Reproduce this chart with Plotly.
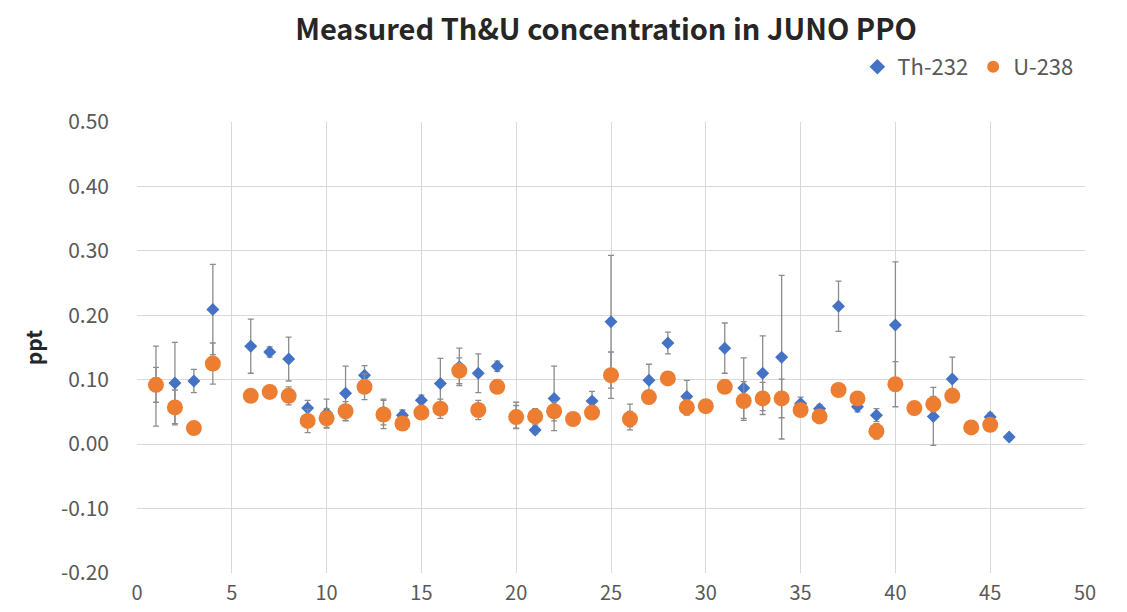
import plotly.graph_objects as go

th_x = [1, 2, 3, 4, 6, 7, 8, 9, 10, 11, 12, 13, 14, 15, 16, 17, 18, 19, 20, 21, 22, 23, 24, 25,
        26, 27, 28, 29, 30, 31, 32, 33, 34, 35, 36, 37, 38, 39, 40, 41, 42, 43, 44, 45, 46]
th_y = [0.090, 0.095, 0.098, 0.209, 0.152, 0.143, 0.132, 0.056, 0.048, 0.079, 0.107, 0.050,
        0.045, 0.068, 0.094, 0.120, 0.110, 0.121, 0.045, 0.022, 0.071, 0.040, 0.067, 0.190,
        0.042, 0.099, 0.157, 0.074, 0.060, 0.149, 0.087, 0.110, 0.135, 0.063, 0.055, 0.214,
        0.058, 0.045, 0.185, 0.055, 0.043, 0.101, 0.025, 0.042, 0.011]
th_err = [0.062, 0.063, 0.018, 0.070, 0.042, 0.008, 0.034, 0.012, 0.022, 0.042, 0.015, 0.020,
          0.008, 0.008, 0.039, 0.029, 0.030, 0.008, 0.020, 0.006, 0.050, 0.008, 0.015, 0.103,
          0.020, 0.025, 0.017, 0.025, 0.008, 0.039, 0.047, 0.058, 0.127, 0.010, 0.006, 0.039,
          0.008, 0.010, 0.098, 0.008, 0.045, 0.034, 0.006, 0.006, 0.004]

u_x = [1, 2, 3, 4, 6, 7, 8, 9, 10, 11, 12, 13, 14, 15, 16, 17, 18, 19, 20, 21, 22, 23, 24, 25,
       26, 27, 28, 29, 30, 31, 32, 33, 34, 35, 36, 37, 38, 39, 40, 41, 42, 43, 44, 45]
u_y = [0.092, 0.057, 0.025, 0.125, 0.075, 0.081, 0.075, 0.036, 0.040, 0.051, 0.089, 0.046,
       0.032, 0.049, 0.055, 0.114, 0.053, 0.089, 0.042, 0.043, 0.051, 0.039, 0.049, 0.107,
       0.039, 0.073, 0.102, 0.057, 0.059, 0.089, 0.067, 0.071, 0.071, 0.053, 0.043, 0.084,
       0.071, 0.020, 0.093, 0.056, 0.062, 0.075, 0.026, 0.030]
u_err = [0.027, 0.027, 0.005, 0.032, 0.006, 0.010, 0.014, 0.018, 0.015, 0.015, 0.020, 0.022,
         0.010, 0.010, 0.015, 0.020, 0.015, 0.010, 0.018, 0.012, 0.015, 0.010, 0.010, 0.036,
         0.012, 0.010, 0.008, 0.012, 0.008, 0.010, 0.030, 0.025, 0.030, 0.010, 0.008, 0.008,
         0.010, 0.012, 0.035, 0.010, 0.012, 0.010, 0.008, 0.008]

x_ticks = [0, 5, 10, 15, 20, 25, 30, 35, 40, 45, 50]
y_ticks = [-0.2, -0.1, 0.0, 0.1, 0.2, 0.3, 0.4, 0.5]
y_tick_text = ["-0.20", "-0.10", "0.00", "0.10", "0.20", "0.30", "0.40", "0.50"]

FONT = "Noto Sans CJK SC, Noto Sans, sans-serif"
err_style = dict(type="data", thickness=1.3, width=3, color="#8C8C8C")

fig = go.Figure()
fig.add_trace(go.Scatter(
    x=th_x, y=th_y, mode="markers", name="Th-232",
    marker=dict(symbol="diamond", size=10, color="#4472C4"),
    error_y=dict(array=th_err, **err_style),
))
fig.add_trace(go.Scatter(
    x=u_x, y=u_y, mode="markers", name="U-238",
    marker=dict(symbol="circle", size=16, color="#ED7D31"),
    error_y=dict(array=u_err, **err_style),
))

fig.update_layout(
    width=1127, height=612,
    margin=dict(l=137, r=42, t=122, b=39),
    paper_bgcolor="white", plot_bgcolor="white",
    font=dict(family=FONT, size=21, color="#595959"),
    title=dict(text="<b>Measured Th&U concentration in JUNO PPO</b>",
               x=(606 / 1127), xanchor="center", xref="container",
               y=1 - 30 / 612, yanchor="middle",
               font=dict(family=FONT, size=29, color="#262626")),
    legend=dict(orientation="h", x=0.993, xanchor="right", y=(573 - 67) / 451, yanchor="middle",
                font=dict(family=FONT, size=22, color="#595959"),
                itemsizing="constant", itemwidth=30, traceorder="normal",
                bgcolor="rgba(0,0,0,0)"),
    showlegend=True,
)
fig.update_xaxes(range=[0, 50], tickvals=x_ticks, showgrid=True, gridcolor="#D9D9D9",
                 gridwidth=1, zeroline=False, showline=False, ticks="", automargin=False,
                 tickfont=dict(size=20, color="#595959"), ticklabelstandoff=6)
fig.update_yaxes(range=[-0.2, 0.5], tickvals=y_ticks, ticktext=y_tick_text, showgrid=True,
                 gridcolor="#D9D9D9", gridwidth=1, zeroline=False, showline=False, ticks="",
                 automargin=False,
                 title=dict(text="<b>ppt</b>", standoff=12,
                            font=dict(size=21, color="#262626")),
                 tickfont=dict(size=21, color="#595959"), ticklabelstandoff=27)

fig.write_html("out.html")
